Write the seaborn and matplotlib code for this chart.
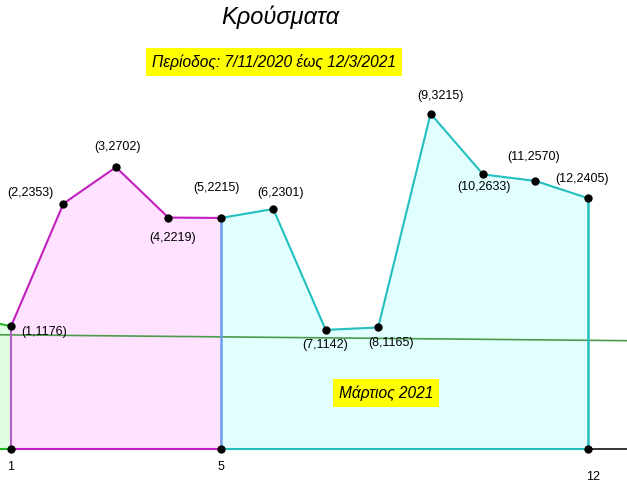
import matplotlib
matplotlib.use("Agg")
import matplotlib.pyplot as plt
import matplotlib.transforms as mtransforms
import seaborn as sns
import pandas as pd

# Κρούσματα ανά σημείο (μήνας/διάστημα, κρούσματα)
months = [1, 2, 3, 4, 5, 6, 7, 8, 9, 10, 11, 12]
cases = [1176, 2353, 2702, 2219, 2215, 2301, 1142, 1165, 3215, 2633, 2570, 2405]
prev_month = 0
prev_cases = 1290
trend_months = [1, 12]
trend_cases = [1094, 1042]
tick_labels = {1: "1", 5: "5", 12: "12"}
split = 5  # αρχή Μαρτίου

title = "Κρούσματα"
period = "Περίοδος: 7/11/2020 έως 12/3/2021"
march = "Μάρτιος 2021"

sns.set_style("white")
plt.rcParams["font.family"] = ["Liberation Sans", "DejaVu Sans"]
plt.rcParams["text.color"] = "black"
plt.rcParams["xtick.color"] = "black"

df = pd.DataFrame({"month": months, "cases": cases})
first = df[df.month <= split]
second = df[df.month >= split]

fig = plt.figure(figsize=(6.27, 4.93), dpi=100)
ax = fig.add_axes([0, 0, 1, 1])
ax.set_xlim(0.79, 12.745)
ax.set_ylim(-422, 4305)

# γεμίσματα
ax.fill_between([prev_month, months[0]], [prev_cases, cases[0]], color="#e2fce2", lw=0)
ax.fill_between(first.month, first.cases, color="#ffe2ff", lw=0)
ax.fill_between(second.month, second.cases, color="#e2ffff", lw=0)

# τάση
ax.axline((trend_months[0], trend_cases[0]), (trend_months[1], trend_cases[1]),
          color="#4c9a4c", lw=1.2, zorder=2)

# άξονας x
for s in ["left", "top", "right"]:
    ax.spines[s].set_visible(False)
ax.spines["bottom"].set_position(("data", 0))
ax.spines["bottom"].set_linewidth(1.3)
ax.set_xticks(months)
ax.set_xticklabels([tick_labels.get(m, "") for m in months], fontsize=9)
ax.tick_params(axis="x", direction="out", length=2.5, width=1, pad=6.5)
ax.set_yticks([])
lab12 = ax.get_xticklabels()[-1]
lab12.set_transform(lab12.get_transform() +
                    mtransforms.ScaledTranslation(5 / 100, -10 / 100, fig.dpi_scale_trans))

# γραμμές
ax.plot([prev_month, months[0]], [prev_cases, cases[0]], color="#22bb22", lw=1.5, zorder=3)
sns.lineplot(data=first, x="month", y="cases", color="#c020c0", lw=1.5, ax=ax, zorder=3)
sns.lineplot(data=second, x="month", y="cases", color="#22bfbf", lw=1.5, ax=ax, zorder=3)
ax.hlines(0, ax.get_xlim()[0], months[0], color="#22bb22", lw=1.5, zorder=3)
ax.hlines(0, months[0], split, color="#c020c0", lw=1.5, zorder=3)
ax.hlines(0, split, months[-1], color="#22bfbf", lw=1.5, zorder=3)
ax.vlines(months[0], 0, cases[0], color="#b060c8", lw=1.5, zorder=3)
ax.vlines(split, 0, cases[months.index(split)], color="#6a9de8", lw=1.8, zorder=3)
ax.vlines(months[-1], 0, cases[-1], color="#22bfbf", lw=1.8, zorder=3)

# σημεία
sns.scatterplot(data=df, x="month", y="cases", color="black", s=36, ax=ax, zorder=5,
                edgecolor="black", linewidth=0)
base = pd.DataFrame({"month": [months[0], split, months[-1]], "cases": [0, 0, 0]})
sns.scatterplot(data=base, x="month", y="cases", color="black", s=36, ax=ax, zorder=5,
                edgecolor="black", linewidth=0)
ax.set_xlabel("")
ax.set_ylabel("")

offsets = {1: (10, -6, "left"), 2: (-33, 11, "center"), 3: (2, 20, "center"),
           4: (4, -20, "center"), 5: (-4, 30, "center"), 6: (7, 16, "center"),
           7: (-1, -15, "center"), 8: (13, -16, "center"), 9: (10, 18, "center"),
           10: (1, -13, "center"), 11: (-2, 24, "center"), 12: (-6, 19, "center")}
for m, c in zip(months, cases):
    dx, dy, ha = offsets[m]
    ax.annotate(f"({m},{c})", (m, c), xytext=(dx, dy), textcoords="offset pixels",
                ha=ha, va="center", fontsize=9, color="black", zorder=6)

fig.text(280 / 627, 1 - 17 / 493, title, ha="center", va="center",
         fontsize=17, style="italic")
fig.text(274 / 627, 1 - 62 / 493, period, ha="center", va="center", fontsize=11.2,
         style="italic", bbox=dict(facecolor="#ffff00", edgecolor="none", pad=4.5))
fig.text(386 / 627, 1 - 393 / 493, march, ha="center", va="center", fontsize=11.2,
         style="italic", bbox=dict(facecolor="#ffff00", edgecolor="none", pad=4.5))

fig.savefig("out.png", dpi=100)
